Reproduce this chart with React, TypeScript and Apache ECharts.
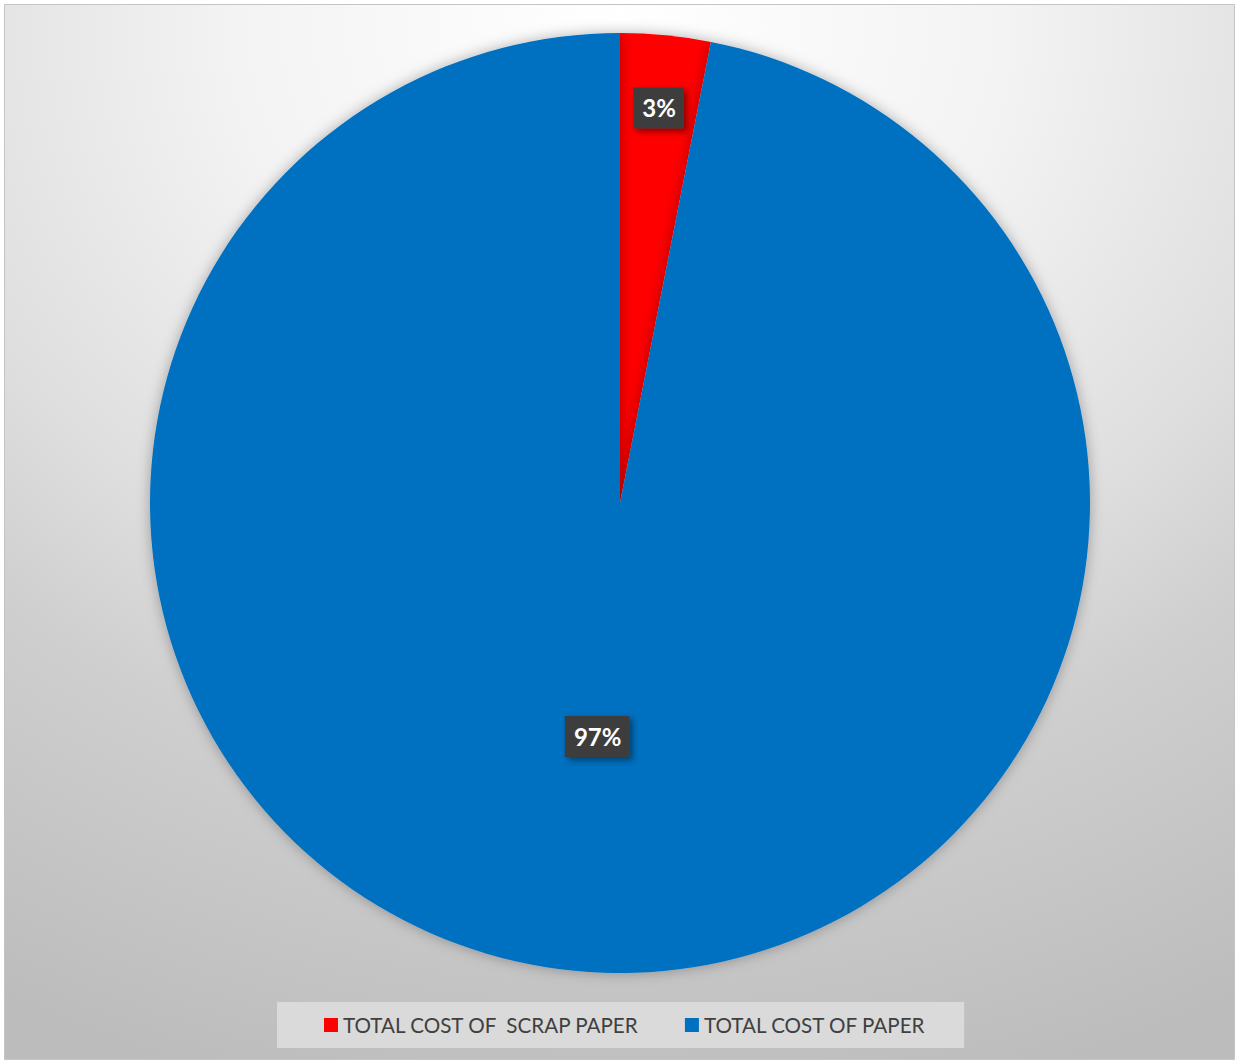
import React, { useEffect, useRef } from "react";
import * as echarts from "echarts";

const categories = ["TOTAL COST OF  SCRAP PAPER", "TOTAL COST OF PAPER"];
const values = [3.1, 96.9];
const colors = ["#FF0000", "#0070C0"];

export default function App() {
  const ref = useRef<HTMLDivElement>(null);
  useEffect(() => {
    const chart = echarts.init(ref.current!, null, { renderer: "svg" });
    const labelStyle = {
      position: "inside",
      color: "#ffffff",
      fontFamily: "Lato",
      fontWeight: "bold",
      fontSize: 24,
      lineHeight: 22,
      backgroundColor: "#3e3e3e",
      padding: [10, 8, 9, 9],
      shadowColor: "rgba(0,0,0,0.45)",
      shadowBlur: 6,
      shadowOffsetX: 3,
      shadowOffsetY: 3,
      formatter: (p: any) => Math.round(p.percent) + "%",
    };
    const mainData = categories.map((name, i) => ({
      name,
      value: values[i],
      itemStyle: { color: colors[i] },
    }));
    const helperData = (show: number) =>
      categories.map((name, i) => ({
        name,
        value: values[i],
        itemStyle: { color: "rgba(0,0,0,0)" },
        label: { show: i === show },
      }));
    const helper = (radius: number[], show: number) => ({
      type: "pie",
      center: [620, 503],
      radius,
      startAngle: 90,
      clockwise: true,
      silent: true,
      legendHoverLink: false,
      itemStyle: { borderWidth: 0 },
      label: labelStyle,
      labelLine: { show: false },
      data: helperData(show),
    });
    chart.setOption({
      animation: false,
      backgroundColor: "#ffffff",
      graphic: [
        {
          type: "rect",
          z: -10,
          silent: true,
          shape: { x: 4.5, y: 4.5, width: 1230, height: 1055 },
          style: {
            fill: {
              type: "radial",
              x: 0.5,
              y: 0.02,
              r: 1.05,
              colorStops: [
                { offset: 0, color: "#ffffff" },
                { offset: 0.3, color: "#f3f3f3" },
                { offset: 0.56, color: "#dedede" },
                { offset: 0.7, color: "#cfcfcf" },
                { offset: 1, color: "#bcbcbc" },
              ],
            },
            stroke: "#c4c4c4",
            lineWidth: 1,
          },
        },
      ],
      legend: {
        data: categories,
        left: 277,
        top: 1002,
        backgroundColor: "#dadada",
        padding: [12, 38, 12, 47],
        itemGap: 45,
        itemWidth: 14,
        itemHeight: 14,
        icon: "rect",
        selectedMode: false,
        textStyle: {
          color: "#404040",
          fontFamily: "Lato",
          fontSize: 20.6,
          lineHeight: 22,
        },
      },
      series: [
        {
          type: "pie",
          center: [620, 503],
          radius: [0, 470],
          startAngle: 90,
          clockwise: true,
          silent: true,
          itemStyle: {
            borderWidth: 0,
            shadowBlur: 14,
            shadowColor: "rgba(0,0,0,0.3)",
          },
          label: { show: false },
          labelLine: { show: false },
          data: mainData,
        },
        helper([318, 470], 0),
        helper([0, 463], 1),
      ],
    });
    return () => chart.dispose();
  }, []);
  return (
    <div
      ref={ref}
      style={{ position: "fixed", left: 0, top: 0, width: 1237, height: 1063 }}
    />
  );
}
